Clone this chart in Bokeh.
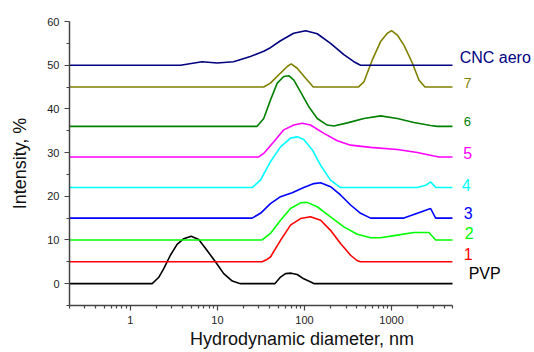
import math
from bokeh.plotting import figure
from bokeh.models import Range1d, FixedTicker, Label, BasicTickFormatter
from bokeh.embed import file_html
from bokeh.resources import INLINE

# ---- data ----
pvp_x = [0.2, 1.78, 2.11, 2.41, 2.88, 3.44, 4.10, 4.99, 6.10, 7.61, 9.48, 11.8, 14.8, 18.4,
         45.6, 53, 60.5, 70.3, 82.4, 98, 123, 128, 5000]
pvp_y = [0, 0, 1.4, 3.4, 6.5, 9.0, 10.3, 10.85, 10.1, 7.6, 5.0, 2.3, 0.6, 0,
         0, 1.5, 2.3, 2.4, 2.1, 1.1, 0.2, 0, 0]

s1_x = [0.2, 32.6, 36, 40.6, 53, 69, 90, 117, 153, 199, 259, 338, 400, 440, 5000]
s1_y = [5, 5, 5.4, 6.1, 9.9, 13.4, 14.9, 15.3, 14.5, 12.2, 9.2, 6.5, 5.3, 5, 5]

s2_x = [0.2, 32.6, 40.6, 53, 69, 90, 107, 140, 199, 283, 403, 574, 748, 1163, 1803, 2685, 3205, 5000]
s2_y = [10, 10, 11.5, 14.5, 17.2, 18.5, 18.6, 17.6, 15.3, 13.0, 11.3, 10.5, 10.5, 11.1, 11.7, 11.7, 10, 10]

s3_x = [0.2, 25, 31.2, 40.6, 53, 72.2, 98, 128, 153, 199, 259, 338, 440, 574, 1385, 1973, 2805, 3205, 5000]
s3_y = [15, 15, 16.1, 18.3, 19.9, 20.8, 22.0, 22.9, 23.1, 22.2, 20.3, 18.0, 16.1, 15.0, 15.0, 16.1, 17.2, 15, 15]

s4_x = [0.2, 25, 31.2, 40.6, 53, 69, 82.4, 98, 123, 153, 199, 259, 1973, 2460, 2805, 3205, 5000]
s4_y = [22, 22, 23.7, 27.9, 31.3, 33.3, 33.6, 33.0, 30.6, 27.1, 23.7, 22, 22, 22.5, 23.3, 22, 22]

s5_x = [0.2, 29.8, 34, 44.4, 57.8, 75.4, 94.1, 117, 167, 238, 338, 574, 1163, 1973, 3063, 3500, 5000]
s5_y = [29, 29, 29.8, 32.5, 35.2, 36.3, 36.7, 36.3, 34.4, 32.7, 31.7, 31.2, 30.7, 30.0, 29.2, 29, 29]

s6_x = [0.2, 28.6, 34, 40.6, 48.6, 57.8, 66, 75.4, 90, 112, 140, 182, 217, 310, 481, 748, 1163, 1803,
        2805, 3350, 5000]
s6_y = [36, 36, 37.8, 42.0, 45.9, 47.4, 47.6, 46.6, 43.9, 40.5, 37.8, 36.3, 36.1, 36.8, 37.8, 38.4, 37.8,
        36.9, 36.2, 36, 36]

s7_x = [0.2, 34, 40.6, 53, 63.3, 70.3, 82.4, 103, 126, 414, 481, 600, 748, 893, 1000, 1163, 1385, 1730,
        2060, 2415, 5000]
s7_y = [45, 45, 45.9, 48.2, 49.7, 50.3, 49.3, 47.0, 45, 45, 46.2, 51.2, 55.4, 57.3, 57.9, 56.9, 54.6, 50.5,
        46.6, 45, 45]

cnc_x = [0.2, 3.76, 6.67, 9.9, 15.3, 23.9, 34, 40.6, 53, 75, 103, 140, 199, 283, 369, 440, 5000]
cnc_y = [50, 50, 50.8, 50.5, 50.8, 52.0, 53.2, 54, 55.6, 57.3, 57.9, 57.2, 55.0, 52.4, 50.8, 50, 50]

series_names = ["PVP", "1", "2", "3", "4", "5", "6", "7", "CNC aero"]
x_ticks = [1, 10, 100, 1000]
y_ticks = [0, 10, 20, 30, 40, 50, 60]

# ---- styles / positions ----
colors = ["#000000", "#FF0000", "#00FF00", "#0000FF", "#00FFFF", "#FF00FF", "#008000", "#808000", "#000080"]
label_x = [7670, 6730, 6900, 6730, 6380, 6640, 6730, 6730, 6050]
label_y = [2.36, 6.83, 11.54, 16.24, 22.66, 30.0, 37.1, 45.94, 51.67]
label_size = ["16px", "16px", "16px", "16px", "16px", "16px", "13px", "14px", "16px"]

FONT = "Liberation Sans"

# x range extended to the right so that the series names fit inside the frame;
# the visible axis is bounded to 0.2 .. 5000
p = figure(width=534, height=352, x_axis_type="log",
           x_range=Range1d(0.2, 43750), y_range=Range1d(-5, 60),
           output_backend="svg", toolbar_location=None,
           min_border_left=69, min_border_right=0, min_border_top=21, min_border_bottom=47)
p.outline_line_color = None
p.xgrid.visible = False
p.ygrid.visible = False
p.background_fill_color = "white"
p.border_fill_color = "white"

xs = [pvp_x, s1_x, s2_x, s3_x, s4_x, s5_x, s6_x, s7_x, cnc_x]
ys = [pvp_y, s1_y, s2_y, s3_y, s4_y, s5_y, s6_y, s7_y, cnc_y]
for x, y, c in zip(xs, ys, colors):
    p.line(x, y, line_color=c, line_width=1.6)

for name, lx, ly, c, fs in zip(series_names, label_x, label_y, colors, label_size):
    p.add_layout(Label(x=lx, y=ly, text=name, text_color=c, text_font=FONT,
                       text_font_size=fs, text_baseline="middle", text_align="left"))

# axes
minor_x = [m * 10 ** e for e in range(-1, 4) for m in range(2, 10) if 0.2 <= m * 10 ** e <= 5000]
p.xaxis.ticker = FixedTicker(ticks=x_ticks, minor_ticks=minor_x)
p.xaxis.formatter = BasicTickFormatter()
p.xaxis.major_label_overrides = {t: str(t) for t in x_ticks}
p.xaxis.bounds = (0.2, 5000)
p.yaxis.ticker = FixedTicker(ticks=y_ticks, minor_ticks=[-5, 5, 15, 25, 35, 45, 55])

for ax in (p.xaxis[0], p.yaxis[0]):
    ax.axis_line_color = "#444444"
    ax.axis_line_width = 1.5
    ax.major_tick_line_color = "#444444"
    ax.minor_tick_line_color = "#444444"
    ax.major_tick_line_width = 1.2
    ax.minor_tick_line_width = 1.2
    ax.major_tick_in = 0
    ax.major_tick_out = 5
    ax.minor_tick_in = 0
    ax.minor_tick_out = 3
    ax.major_label_text_font = FONT
    ax.major_label_text_font_size = "11px"
    ax.major_label_text_color = "#222222"
    ax.axis_label_text_font = FONT
    ax.axis_label_text_font_size = "18px"
    ax.axis_label_text_font_style = "normal"
    ax.axis_label_text_color = "#111111"

p.yaxis.axis_label = "Intensity, %"
p.yaxis.axis_label_standoff = 14
p.xaxis.axis_label = "Hydrodynamic diameter, nm"
p.xaxis.axis_label_standoff = 2

open("out.html", "w").write(file_html(p, INLINE))
